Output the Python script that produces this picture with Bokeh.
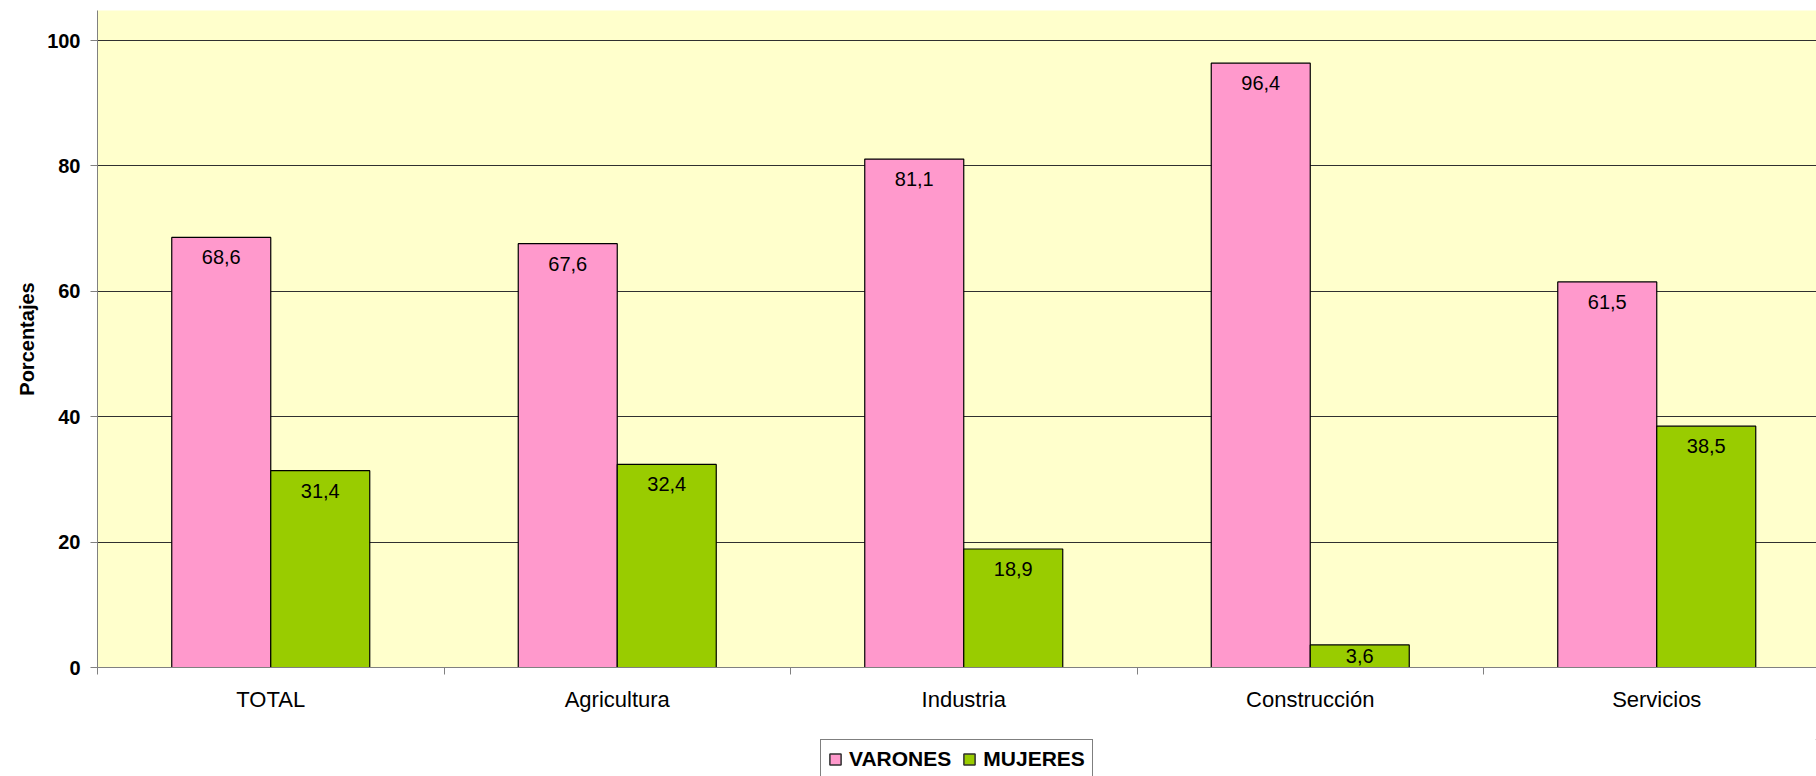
from bokeh.plotting import figure
from bokeh.layouts import column
from bokeh.models import Range1d, FixedTicker, Legend, LegendItem, ColumnDataSource
from bokeh.core.properties import value
from bokeh.embed import file_html
from bokeh.resources import INLINE

categories = ["TOTAL", "Agricultura", "Industria", "Construcción", "Servicios"]
varones = [68.6, 67.6, 81.1, 96.4, 61.5]
mujeres = [31.4, 32.4, 18.9, 3.6, 38.5]
series_names = ["VARONES", "MUJERES"]
series_colors = ["#FF99CC", "#99CC00"]
y_ticks = [0, 20, 40, 60, 80, 100]

FONT = "Liberation Sans"
W, H, LEG_H = 1816, 739, 37
BL, BT, BB = 97, 10, 72
CAT_W = 346.5
Y_END = 104.8
X_END = (W - BL) / CAT_W
frame_h = H - BT - BB
ppu = frame_h / Y_END
bw = 2.0 / 7.0

p = figure(width=W, height=H, output_backend="svg", toolbar_location=None,
           x_range=Range1d(0, X_END), y_range=Range1d(0, Y_END),
           min_border_left=BL, min_border_right=0, min_border_top=BT,
           min_border_bottom=BB)
p.background_fill_color = "#FFFFCC"
p.border_fill_color = "white"
p.outline_line_color = None

centers = [i + 0.5 for i in range(len(categories))]
src = ColumnDataSource(dict(
    xv=[c - bw / 2 for c in centers],
    xm=[c + bw / 2 for c in centers],
    v=varones, m=mujeres,
    vl=[f"{x:.1f}".replace(".", ",") for x in varones],
    ml=[f"{x:.1f}".replace(".", ",") for x in mujeres],
    vy=[max(x - 20 / ppu, x / 2) for x in varones],
    my=[max(x - 20 / ppu, x / 2) for x in mujeres],
))

p.vbar(x="xv", top="v", bottom=0, width=bw, source=src,
       fill_color=series_colors[0], line_color="black", line_width=1.2)
p.vbar(x="xm", top="m", bottom=0, width=bw, source=src,
       fill_color=series_colors[1], line_color="black", line_width=1.2)

for xc, yc, tc in (("xv", "vy", "vl"), ("xm", "my", "ml")):
    p.text(x=xc, y=yc, text=tc, source=src, text_align="center",
           text_baseline="middle", text_font=value(FONT),
           text_font_size="20px", text_color="black")

# y axis
p.yaxis.ticker = FixedTicker(ticks=y_ticks)
p.yaxis.axis_line_color = "#808080"
p.yaxis.major_tick_line_color = "#808080"
p.yaxis.major_tick_out = 7
p.yaxis.major_tick_in = 0
p.yaxis.minor_tick_line_color = None
p.yaxis.major_label_text_font = FONT
p.yaxis.major_label_text_font_size = "20px"
p.yaxis.major_label_text_font_style = "bold"
p.yaxis.major_label_text_color = "black"
p.yaxis.major_label_standoff = 10
p.yaxis.axis_label = "Porcentajes"
p.yaxis.axis_label_text_font = FONT
p.yaxis.axis_label_text_font_size = "20px"
p.yaxis.axis_label_text_font_style = "bold"
p.yaxis.axis_label_text_color = "black"
p.yaxis.axis_label_standoff = 6

# x axis
p.xaxis.ticker = FixedTicker(ticks=centers, minor_ticks=list(range(len(categories) + 1)))
p.xaxis.major_label_overrides = {c: name for c, name in zip(centers, categories)}
p.xaxis.axis_line_color = "#808080"
p.xaxis.major_tick_line_color = None
p.xaxis.major_tick_out = 0
p.xaxis.major_tick_in = 0
p.xaxis.minor_tick_line_color = "#808080"
p.xaxis.minor_tick_out = 7
p.xaxis.minor_tick_in = 0
p.xaxis.major_label_text_font = FONT
p.xaxis.major_label_text_font_size = "22px"
p.xaxis.major_label_text_color = "black"
p.xaxis.major_label_standoff = 12

p.xgrid.grid_line_color = None
p.ygrid.ticker = FixedTicker(ticks=y_ticks[1:])
p.ygrid.grid_line_color = "#303030"
p.ygrid.grid_line_width = 1

# legend strip below the chart (its frame is aligned with the chart frame)
pl = figure(width=W, height=LEG_H, output_backend="svg", toolbar_location=None,
            x_range=Range1d(0, 1), y_range=Range1d(0, 1), min_border=0)
pl.axis.visible = False
pl.grid.visible = False
pl.outline_line_color = None
pl.background_fill_color = "white"
pl.border_fill_color = "white"
lr = [pl.vbar(x=[5], top=[5], bottom=[4], width=0.1, fill_color=c,
              line_color="#303030", line_width=1.5)
      for c in series_colors]

legend = Legend(items=[LegendItem(label=n, renderers=[r]) for n, r in zip(series_names, lr)],
                orientation="horizontal", location=(820 - BL, -3))
legend.label_text_font = FONT
legend.label_text_font_size = "21px"
legend.label_text_font_style = "bold"
legend.label_text_color = "black"
legend.glyph_width = 14
legend.glyph_height = 14
legend.label_height = 21
legend.padding = 7
legend.margin = 0
legend.spacing = 11
legend.label_standoff = 7
legend.border_line_color = "black"
legend.border_line_width = 1
legend.background_fill_color = "white"
legend.background_fill_alpha = 1
pl.add_layout(legend, "center")

layout = column(p, pl, spacing=0)
open("out.html", "w").write(file_html(layout, INLINE))
